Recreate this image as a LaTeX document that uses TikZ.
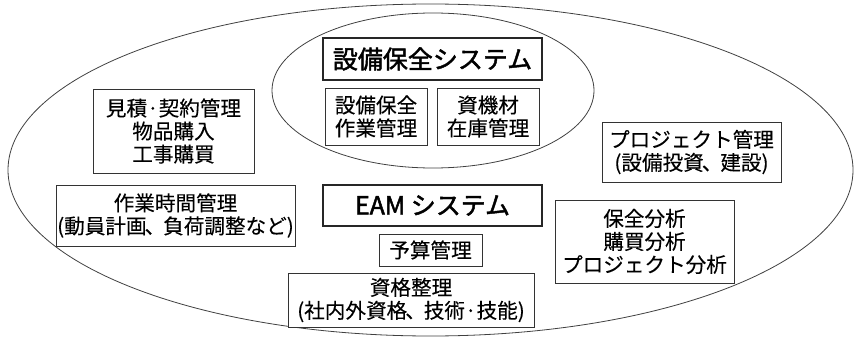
\documentclass[tikz,border=0pt]{standalone}
\usepackage{fontspec}
\setmainfont{Noto Sans CJK JP}[FakeBold=0.15]
\newfontfamily\jpb{Noto Sans CJK JP}[FakeBold=1.8]
\newcommand{\tc}{\kern-2pt、\kern-2pt}
\begin{document}
\begin{tikzpicture}[x=1pt,y=-1pt,
  box/.style={draw=black!80,line width=0.9pt,fill=white,align=center,inner sep=0pt,
    font=\fontsize{20.6}{23}\selectfont},
  titlebox/.style={draw=black!85,line width=1.2pt,fill=white,align=center,inner sep=0pt,
    font=\fontsize{25}{28}\selectfont\jpb},
  oval/.style={draw=black!75,line width=0.8pt}]
\useasboundingbox (0,0) rectangle (854,337);
\draw[oval] (430.5,170) ellipse [x radius=422.5, y radius=166];
\draw[oval] (433,90.5) ellipse [x radius=161, y radius=77.5];

\node[titlebox,minimum width=219,minimum height=42] (hozen) at (432.5,59) {設備保全システム};
\node[box,minimum width=102,minimum height=57] (sagyo) at (376,116.5) {設備保全\\作業管理};
\node[box,minimum width=102,minimum height=57] (zaiko) at (488,116.5) {資機材\\在庫管理};
\node[box,minimum width=161,minimum height=84] (mitsu) at (173.5,131) {見積·契約管理\\物品購入\\工事購買};
\node[box,minimum width=239,minimum height=61] (jikan) at (175.5,215.5) {作業時間管理\\(動員計画\tc 負荷調整など)};
\node[titlebox,minimum width=219,minimum height=41] (eam) at (432.5,205.5) {EAM システム};
\node[box,minimum width=103,minimum height=32] (yosan) at (430.5,250) {予算管理};
\node[box,minimum width=246,minimum height=54] (shikaku) at (411,300) {資格整理\\(社内外資格\tc 技術·技能)};
\node[box,minimum width=179,minimum height=60] (pj) at (691.5,152) {プロジェクト管理\\(設備投資\tc 建設)};
\node[box,minimum width=179,minimum height=83] (bunseki) at (644.5,241.5) {保全分析\\購買分析\\プロジェクト分析};
\end{tikzpicture}
\end{document}
